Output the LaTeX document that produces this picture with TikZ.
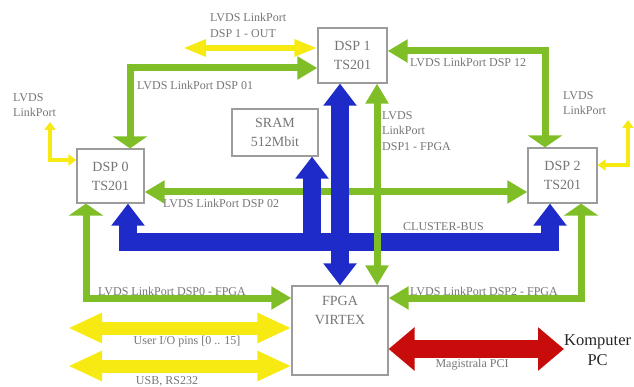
\documentclass[tikz,border=0pt]{standalone}
\usepackage{fontspec}
\setmainfont{Liberation Serif}
\usetikzlibrary{arrows.meta, positioning}
\definecolor{busblue}{HTML}{1F2BC9}
\definecolor{linkgreen}{HTML}{80BE28}
\definecolor{portyellow}{HTML}{F7EA12}
\definecolor{pcired}{HTML}{C80C0C}
\definecolor{boxgray}{HTML}{9C9C9C}
\definecolor{txtgray}{HTML}{767676}
\tikzset{
  chiptxt/.style={align=center, inner sep=0pt, text=txtgray,
                  font=\fontsize{14}{19}\selectfont},
  chip/.style={chiptxt, draw=boxgray, line width=1.2pt, fill=white},
  lbl/.style={text=txtgray, inner sep=0pt, align=left,
              font=\fontsize{12}{15.5}\selectfont},
  link/.style={draw=linkgreen, line width=7pt},
  bus/.style={draw=busblue, line width=18pt},
  port/.style={draw=portyellow, line width=6pt},
  portwide/.style={draw=portyellow, line width=13pt},
  portthin/.style={draw=portyellow, line width=4.5pt},
  pcibus/.style={draw=pcired, line width=18pt},
  gtip/.tip={Triangle[width=22pt,length=20pt]},
  gflat/.tip={Triangle[width=34pt,length=12pt]},
  btip/.tip={Triangle[width=32pt,length=22pt]},
  ytip/.tip={Triangle[width=16pt,length=23pt]},
  ybig/.tip={Triangle[width=28pt,length=34pt]},
  ysml/.tip={Triangle[width=11pt,length=8pt]},
  rtip/.tip={Triangle[width=42pt,length=26pt]},
}

\begin{document}
\begin{tikzpicture}[x=1pt, y=-1pt]
  \useasboundingbox (0,0) rectangle (634,387);

  % processors and memory
  \node (dspone) [chip, minimum width=69pt, minimum height=55pt] at (352.5,55.5) {DSP 1\\TS201};
  \node (dspzero) [chip, minimum width=67pt, minimum height=54pt] at (110.5,176) {DSP 0\\TS201};
  \node (dsptwo) [chip, minimum width=69pt, minimum height=55pt] at (562.5,175.5) {DSP 2\\TS201};
  \node (sram) [chip, minimum width=86pt, minimum height=47pt] at (275,132.5) {SRAM\\512Mbit};
  \node (fpga) [chip, minimum width=96pt, minimum height=89pt] at (340,330.5) {};
  \node [chiptxt, below=11pt of fpga.north] {FPGA\\VIRTEX};
  \node (komp) [anchor=west, inner sep=0pt, align=center, text=black!85,
                font=\fontsize{16.5}{20}\selectfont] at (564,350) {Komputer\\PC};

  % corner and end points
  \coordinate (k01) at (130,68);  \coordinate (k12) at (545,51);
  \coordinate (k02) at (0,192);   \coordinate (k1f) at (377,0);
  \coordinate (k0f) at (86,298);  \coordinate (k2f) at (581,298);
  \coordinate (busL) at (119,242); \coordinate (busR) at (559,242);
  \coordinate (b0) at (128,251);  \coordinate (b2) at (550,251);
  \coordinate (bs) at (312,242);  \coordinate (b1) at (340,0);
  \coordinate (pci) at (0,349);
  \coordinate (out1) at (183,48);
  \coordinate (uio) at (68,328);  \coordinate (usb) at (68,366);
  \coordinate (lp0) at (50,122);  \coordinate (lp0in) at (0,160);
  \coordinate (lp2) at (628,120); \coordinate (lp2in) at (0,165);

  % link ports
  \draw[port, ytip-ytip] (out1) -- (out1 -| dspone.west);
  \draw[portthin, ysml-ysml] (lp0) |- (dspzero.west |- lp0in);
  \draw[portthin, ysml-ysml] (lp2) |- (dsptwo.east |- lp2in);
  \draw[portwide, ybig-ybig] (uio) -- (uio -| fpga.west);
  \draw[portwide, ybig-ybig] (usb) -- (usb -| fpga.west);

  \draw[link, gflat-gtip] (dspzero.north -| k01) |- (dspone.west |- k01);
  \draw[link, gtip-gflat] (dspone.east |- k12) -| (dsptwo.north -| k12);
  \draw[link, gtip-gtip] (dspzero.east |- k02) -- (dsptwo.west |- k02);
  \draw[link, gflat-gtip] (dspzero.south -| k0f) |- (fpga.west |- k0f);
  \draw[link, gflat-gtip] (dsptwo.south -| k2f) |- (fpga.east |- k2f);

  % cluster bus
  \draw[bus] (busL) -- (busR);
  \draw[bus, -btip] (b0) -- (b0 |- dspzero.south);
  \draw[bus, -btip] (b2) -- (b2 |- dsptwo.south);
  \draw[bus, -btip] (bs) -- (bs |- sram.south);
  \draw[bus, btip-btip] (dspone.south -| b1) -- (fpga.north -| b1);

  \draw[link, gtip-gtip] (dspone.south -| k1f) -- (fpga.north -| k1f);
  \draw[pcibus, rtip-rtip] (fpga.east |- pci) -- (komp.west |- pci);

  % labels
  \node[lbl, anchor=west] at (210,25.5) {LVDS LinkPort\\DSP 1 - OUT};
  \node[lbl, anchor=west] at (13,105) {LVDS\\LinkPort};
  \node[lbl, anchor=west] at (563,103) {LVDS\\LinkPort};
  \node[lbl, anchor=west] at (137,85) {LVDS LinkPort DSP 01};
  \node[lbl, anchor=west] at (410,62) {LVDS LinkPort DSP 12};
  \node[lbl, anchor=west] at (163,203) {LVDS LinkPort DSP 02};
  \node[lbl, anchor=west] at (382,131) {LVDS\\LinkPort\\DSP1 - FPGA};
  \node[lbl, anchor=west] at (403,227) {CLUSTER-BUS};
  \node[lbl, anchor=west] at (98,291) {LVDS LinkPort DSP0 - FPGA};
  \node[lbl, anchor=west] at (410,291) {LVDS LinkPort DSP2 - FPGA};
  \node[lbl] at (187,342) {User I/O pins [0 .. 15]};
  \node[lbl] at (167,381) {USB, RS232};
  \node[lbl] at (472,365) {Magistrala PCI};
\end{tikzpicture}
\end{document}
